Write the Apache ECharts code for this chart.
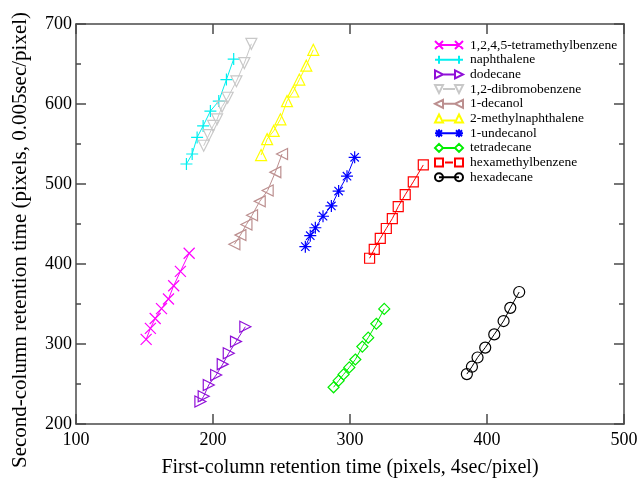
<!DOCTYPE html>
<html>
<head>
<meta charset="utf-8">
<script src="https://cdn.jsdelivr.net/npm/echarts@6/dist/echarts.min.js"></script>
<style>html,body{margin:0;padding:0;background:#fff;}#c{width:641px;height:483px;}</style>
</head>
<body>
<div id="c"></div>
<script>
// ---- data (x = first-column time, y = second-column time) ----
const seriesNames = ['1,2,4,5-tetramethylbenzene','naphthalene','dodecane','1,2-dibromobenzene','1-decanol','2-methylnaphthalene','1-undecanol','tetradecane','hexamethylbenzene','hexadecane'];
const tetramethylbenzene = [[151.2,305.8],[154.3,319.5],[157.8,331.9],[162.4,344.3],[167.5,356.3],[171.3,372.8],[176.2,390.7],[182.6,413.4]];
const naphthalene = [[180.6,525],[184.8,537.5],[188.4,558.2],[192.8,572.6],[198.1,591.2],[204.2,603.6],[209.8,630.5],[215.1,656.2]];
const dodecane = [[190.8,228.2],[193.2,234.7],[196.9,248.8],[202.3,261.2],[207.1,274.8],[211.5,288.5],[216.8,303],[223.6,321.6]];
const dibromobenzene = [[193.2,547.8],[196.9,561],[200.1,572.6],[203,580.9],[206.6,596.7],[210.7,607.8],[217.1,628.4],[222.9,651.2],[228,675.2]];
const decanol = [[215.6,424.6],[220,436.1],[224.4,449.4],[228.5,460.9],[234.1,478.3],[239.9,491.9],[245.5,514.8],[250.4,537.5]];
const methylnaphthalene = [[235.1,536.2],[239.5,556.1],[244.3,566.4],[249.2,580.9],[254,603.6],[258.6,615.6],[263,630.5],[268.1,647.9],[273.2,667.7]];
const undecanol = [[267.4,421.7],[271,435.4],[274.7,445.3],[280.3,459.7],[286.4,472.6],[291.7,491.2],[297.8,509.8],[303.4,533.4]];
const tetradecane = [[288,245.9],[291.7,254.2],[295.3,262],[299.5,270.7],[303.9,280.6],[309,296.8],[313.3,307.9],[319.2,325.3],[325,343.9]];
const hexamethylbenzene = [[314.3,407.2],[317.7,418.4],[322.1,432],[326.5,444.4],[330.9,456.8],[335.2,471.7],[340.3,486.6],[346.2,502.7],[353.5,523.8]];
const hexadecane = [[385.3,262.4],[389,271.6],[393.1,283.1],[398.7,295.5],[405.3,312],[412.1,328.7],[417,345.2],[423.5,365]];
const xTicks = [100,200,300,400,500];
const yTicks = [200,300,400,500,600,700];

const allData = [tetramethylbenzene,naphthalene,dodecane,dibromobenzene,decanol,methylnaphthalene,undecanol,tetradecane,hexamethylbenzene,hexadecane];
const colors = ['#ff00ff','#00f0f0','#9010d8','#c8c8c8','#bc8f8f','#ffff00','#0000ff','#00ee00','#ff0000','#000000'];

// marker shapes (outline only)
const sym = [
  'path://M0,0L10,10M0,10L10,0',
  'path://M5,0L5,10M0,5L10,5',
  'path://M0,0L10,5L0,10Z',
  'path://M0,0L10,0L5,9Z',
  'path://M10,0L0,5L10,10Z',
  'path://M5,0L10,9L0,9Z',
  'path://M5,0L5,10M0,5L10,5M1.5,1.5L8.5,8.5M1.5,8.5L8.5,1.5',
  'diamond',
  'rect',
  'circle'
];
// legend icons: marker - line - marker
const legIcons = [
  'path://M0,0L8,8M0,8L8,0M4,4L24,4M20,0L28,8M20,8L28,0',
  'path://M4,0L4,8M0,4L28,4M24,0L24,8',
  'path://M0,0L8,4L0,8ZM8,4L20,4M20,0L28,4L20,8Z',
  'path://M0,0L8,0L4,8ZM8,4L20,4M20,0L28,0L24,8Z',
  'path://M8,0L0,4L8,8ZM8,4L20,4M28,0L20,4L28,8Z',
  'path://M4,0L8,8L0,8ZM8,6L20,6M24,0L28,8L20,8Z',
  'path://M4,0L4,8M0,4L28,4M1,1L7,7M1,7L7,1M24,0L24,8M21,1L27,7M21,7L27,1',
  'path://M4,0L8,4L4,8L0,4ZM8,4L20,4M24,0L28,4L24,8L20,4Z',
  'path://M0,0L8,0L8,8L0,8ZM10,4L18,4M20,0L28,0L28,8L20,8Z',
  'path://M8,4A4,4,0,1,1,0,4A4,4,0,1,1,8,4ZM4,4L24,4M28,4A4,4,0,1,1,20,4A4,4,0,1,1,28,4Z'
];
const sizes = [11,12,11,11,11,11,12,11,10,11];

const font = 'Liberation Serif';
const axisCol = '#4a4a4a';

const series = allData.map((d,i)=>({
  name: seriesNames[i],
  type: 'line',
  data: d,
  symbol: sym[i],
  symbolSize: sizes[i],
  showAllSymbol: true,
  animation: false,
  lineStyle: {color: colors[i], width: 1},
  itemStyle: {color: 'rgba(255,255,255,0)', borderColor: colors[i], borderWidth: 1.2},
  emphasis: {disabled: true}
}));

const chart = echarts.init(document.getElementById('c'), null, {renderer:'canvas'});
chart.setOption({
  animation: false,
  backgroundColor: '#fff',
  grid: {left: 76, right: 17, top: 24, bottom: 56},
  legend: {
    orient: 'vertical', left: 434, top: 38, padding: 0,
    itemWidth: 28, itemHeight: 8, itemGap: 0.7,
    data: seriesNames.map((n,i)=>({name:n, icon: legIcons[i]})),
    textStyle: {fontFamily: font, fontSize: 13.5, color: '#000', lineHeight: 13, padding:[0,0,0,2]},
    selectedMode: false
  },
  xAxis: [{
    type: 'value', min: 100, max: 500, interval: 100,
    name: 'First-column retention time (pixels, 4sec/pixel)',
    nameLocation: 'middle', nameGap: 34,
    nameTextStyle: {fontFamily: font, fontSize: 20, color: '#000'},
    axisLine: {show: true, lineStyle: {color: axisCol, width: 1.5}},
    axisTick: {show: true, inside: true, length: 10, lineStyle: {color: axisCol, width: 1.5}},
    axisLabel: {fontFamily: font, fontSize: 18, color: '#000', margin: 7, formatter: v => xTicks.includes(v) ? String(v) : ''},
    splitLine: {show: false}
  },{
    type: 'value', min: 100, max: 500, interval: 100, position: 'top',
    axisLine: {show: true, lineStyle: {color: axisCol, width: 1.5}},
    axisTick: {show: true, inside: true, length: 10, lineStyle: {color: axisCol, width: 1.5}},
    axisLabel: {show: false}, splitLine: {show: false}
  }],
  yAxis: [{
    type: 'value', min: 200, max: 700, interval: 100,
    name: 'Second-column retention time (pixels, 0.005sec/pixel)',
    nameLocation: 'middle', nameGap: 45,
    nameTextStyle: {fontFamily: font, fontSize: 21, color: '#000', padding: [0, 32, 0, 0]},
    axisLine: {show: true, lineStyle: {color: axisCol, width: 1.5}},
    axisTick: {show: true, inside: true, length: 10, lineStyle: {color: axisCol, width: 1.5}},
    minorTick: {show: true, splitNumber: 2, length: 5, lineStyle: {color: axisCol, width: 1.5}},
    axisLabel: {fontFamily: font, fontSize: 18, color: '#000', margin: 4, formatter: v => yTicks.includes(v) ? String(v) : ''},
    splitLine: {show: false}, minorSplitLine: {show: false}
  },{
    type: 'value', min: 200, max: 700, interval: 100, position: 'right',
    axisLine: {show: true, lineStyle: {color: axisCol, width: 1.5}},
    axisTick: {show: true, inside: true, length: 10, lineStyle: {color: axisCol, width: 1.5}},
    minorTick: {show: true, splitNumber: 2, length: 5, lineStyle: {color: axisCol, width: 1.5}},
    axisLabel: {show: false}, splitLine: {show: false}, minorSplitLine: {show: false}
  }],
  series: series
});
</script>
</body>
</html>
